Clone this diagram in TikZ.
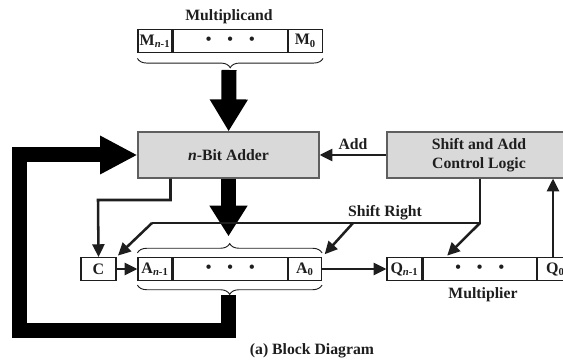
\documentclass[tikz,border=0pt]{standalone}
\usepackage{fontspec}
\setmainfont{Liberation Serif}
\usetikzlibrary{arrows.meta,positioning,decorations.pathreplacing}
\definecolor{BoxGray}{RGB}{217,217,217}
\definecolor{EdgeGray}{RGB}{95,95,95}
\definecolor{Ink}{RGB}{30,30,30}
\tikzset{
  cell/.style={draw=Ink, line width=0.9pt, inner sep=0pt, minimum height=17.2pt, font=\bfseries\fontsize{12}{13}\selectfont},
  unit/.style={draw=EdgeGray, fill=BoxGray, line width=0.9pt, align=center, inner sep=0pt, minimum height=34.5pt, font=\bfseries\fontsize{11.8}{14.5}\selectfont},
  label/.style={font=\bfseries\fontsize{11.8}{13}\selectfont, text=Ink, inner sep=1pt},
  arrow/.style={-{Triangle[length=9.5pt,width=9pt]}, line width=1.9pt, draw=Ink},
  wire/.style={line width=1.9pt, draw=Ink, line join=miter},
  fat/.style={-{Triangle[length=24pt,width=27pt]}, line width=11.25pt, draw=black, line join=miter},
  brc/.style={decorate, decoration={brace, amplitude=7pt}, line width=0.7pt, draw=Ink}
}
\newcommand{\regdots}{\textbullet\hspace{12pt}\textbullet\hspace{12pt}\textbullet}
\begin{document}
\begin{tikzpicture}[x=0.75pt, y=-0.75pt, text=Ink]
\useasboundingbox (0,0) rectangle (563,363);

% multiplicand register
\node[label] (mname) at (229,17) {Multiplicand};
\node[cell, minimum width=25.5pt] (mhi) at (155,41) {M\textsubscript{\textit{n}-1}};
\node[cell, minimum width=85.5pt, right=0pt of mhi] (mdots) {\regdots};
\node[cell, minimum width=25.5pt, right=0pt of mdots] (mlo) {M\textsubscript{0}};
\coordinate (mtip) at (229,70);

% adder and control
\node[unit, minimum width=135.75pt] (adder) at (228.5,155) {\textit{n}-Bit Adder};
\node[unit, minimum width=138pt] (ctrl) at (479,155) {Shift and Add\\Control Logic};

% accumulator
\node[cell, minimum width=26.25pt] (c) at (98.5,269) {C};
\node[cell, minimum width=25.5pt] (ahi) at (155,269) {A\textsubscript{\textit{n}-1}};
\node[cell, minimum width=85.5pt, right=0pt of ahi] (adots) {\regdots};
\node[cell, minimum width=24.75pt, right=0pt of adots] (alo) {A\textsubscript{0}};
\coordinate (atop) at (228.5,243);
\coordinate (abot) at (228.5,295);

% multiplier register
\node[cell, minimum width=26.25pt] (qhi) at (404.5,269) {Q\textsubscript{\textit{n}-1}};
\node[cell, minimum width=84.75pt, right=0pt of qhi] (qdots) {\regdots};
\node[cell, minimum width=27pt, right=0pt of qdots] (qlo) {Q\textsubscript{0}};
\node[label] (qname) at (483,295) {Multiplier};

% shift right wiring
\coordinate (sr) at (480,223);
\coordinate (srl) at (152,223);
\coordinate (sra) at (353,223);
\coordinate (cw) at (98,200);
\coordinate (fbl) at (19,330);

\draw[brc, decoration={mirror}] ([yshift=-4pt]mhi.south west) -- ([yshift=-4pt]mlo.south east);
\draw[brc] ([yshift=3pt]ahi.north west) -- ([yshift=3pt]alo.north east);
\draw[brc, decoration={mirror}] ([yshift=-3pt]ahi.south west) -- ([yshift=-3pt]alo.south east);

\draw[fat] (mtip) -- (adder);
\draw[fat, -{Triangle[length=23pt,width=27pt]}, shorten >=5pt] (adder) -- (atop);
\draw[fat, -{Triangle[length=28pt,width=27pt]}] (abot) |- (fbl) |- (adder.west);

\draw[arrow] (ctrl.west) -- (adder.east) node[label, midway, above=2pt] {Add};
\draw[arrow] ([xshift=-43.5pt]adder.south) |- (cw) -- (c.north);
\draw[arrow] (c) -- (ahi);
\draw[arrow] (alo) -- (qhi);
\draw[wire] (ctrl.south -| sr) -- (sr) -- (srl);
\draw[arrow] (srl) -- ([xshift=1pt,yshift=1pt]c.north east);
\draw[arrow] (sra) -- ([xshift=2pt,yshift=2pt]alo.north east);
\draw[arrow] (sr) -- ([xshift=32pt,yshift=1pt]qhi.north);
\draw[arrow] (qlo.north -| 553,0) -- (ctrl.south -| 553,0);
\node[label] (srname) at (385,213) {Shift Right};

\node[label] (caption) at (312,351) {(a) Block Diagram};
\end{tikzpicture}
\end{document}
